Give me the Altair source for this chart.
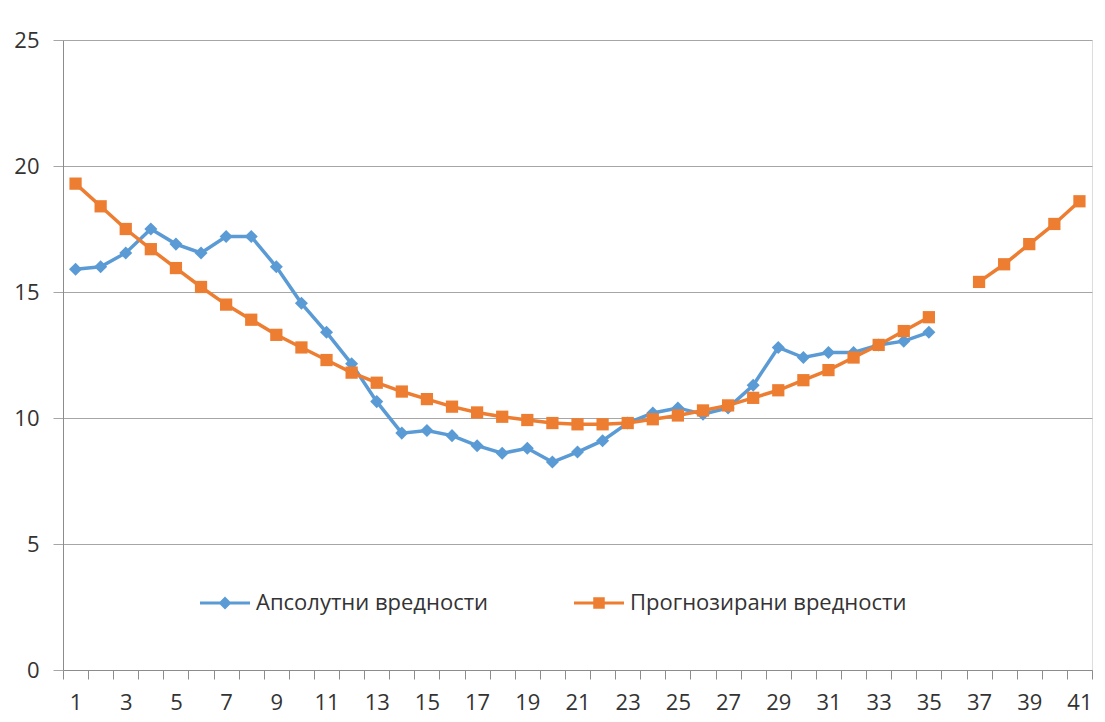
import altair as alt
import pandas as pd

periods = list(range(1, 42))
actual = [15.9, 16.0, 16.55, 17.5, 16.9, 16.55, 17.2, 17.2, 16.0, 14.55,
          13.4, 12.15, 10.65, 9.4, 9.5, 9.3, 8.9, 8.6, 8.8, 8.25,
          8.65, 9.1, 9.8, 10.2, 10.4, 10.15, 10.4, 11.3, 12.8, 12.4,
          12.6, 12.6, 12.9, 13.05, 13.4,
          None, None, None, None, None, None]
forecast = [19.3, 18.4, 17.5, 16.7, 15.95, 15.2, 14.5, 13.9, 13.3, 12.8,
            12.3, 11.8, 11.4, 11.05, 10.75, 10.45, 10.22, 10.05, 9.92, 9.8,
            9.75, 9.75, 9.8, 9.95, 10.1, 10.3, 10.5, 10.8, 11.1, 11.5,
            11.9, 12.4, 12.9, 13.45, 14.0,
            None, 15.4, 16.1, 16.9, 17.7, 18.6]
series_names = ["Апсолутни вредности", "Прогнозирани вредности"]
series_colors = ["#5B9BD5", "#ED7D31"]
series_shapes = ["diamond", "square"]
y_ticks = [0, 5, 10, 15, 20, 25]

rows = []
for name, vals in zip(series_names, [actual, forecast]):
    seg = 0
    for p, v in zip(periods, vals):
        if v is None:
            seg += 1
            continue
        rows.append({"period": p, "value": v, "series": name, "seg": f"{name}-{seg}"})
df = pd.DataFrame(rows)

FONT = "Open Sans"
FS = 22
x_vals = [i / 2 for i in range(1, 84)]

x_enc = alt.X(
    "period:Q",
    scale=alt.Scale(domain=[0.5, 41.5], nice=False, zero=False),
    axis=alt.Axis(
        title=None, values=x_vals, grid=False,
        labelExpr="datum.value % 2 === 1 ? '' + datum.value : ''",
        labelOverlap=False, labelFlush=False,
        tickSize=9, tickColor="#8c8c8c", domainColor="#8c8c8c",
        tickOpacity={"condition": {"test": "datum.value % 1 === 0", "value": 0}, "value": 1},
        labelFont=FONT, labelFontSize=FS, labelColor="#333333", labelPadding=13,
    ),
)
y_enc = alt.Y(
    "value:Q",
    scale=alt.Scale(domain=[0, 25], nice=False),
    axis=alt.Axis(
        title=None, values=y_ticks, grid=True, gridColor="#a6a6a6",
        domainColor="#8c8c8c", tickColor="#a6a6a6", tickSize=10,
        labelFont=FONT, labelFontSize=FS, labelColor="#333333", labelPadding=14,
    ),
)

color_scale = alt.Scale(domain=series_names, range=series_colors)
blue_sym = "M-1,-0.06H1V0.06H-1Z M0,-0.26L0.26,0L0,0.26L-0.26,0Z"
orange_sym = "M-1,-0.06H1V0.06H-1Z M-0.23,-0.23H0.23V0.23H-0.23Z"

legend_layer = alt.Chart(df).transform_filter("false").mark_point(filled=True, opacity=1).encode(
    x=x_enc, y=y_enc,
    color=alt.Color("series:N", scale=color_scale, legend=alt.Legend(
        title=None, orient="none", direction="horizontal",
        legendX=137, legendY=538, symbolSize=2500, symbolStrokeWidth=0,
        symbolOpacity=1, labelLimit=500,
        labelFont=FONT, labelFontSize=FS, labelColor="#333333",
        labelOffset=6, columnPadding=85,
    )),
    shape=alt.Shape("series:N", scale=alt.Scale(domain=series_names, range=[blue_sym, orange_sym])),
)

layers = [legend_layer]
for name, shp, size in zip(series_names, series_shapes, [170, 150]):
    sub = alt.Chart(df).transform_filter(alt.datum.series == name)
    layers.append(sub.mark_line(strokeWidth=3.5).encode(
        x=x_enc, y=y_enc, color=alt.Color("series:N", scale=color_scale, legend=None), detail="seg:N"))
    layers.append(sub.mark_point(filled=True, opacity=1, size=size, shape=shp).encode(
        x=x_enc, y=y_enc, color=alt.Color("series:N", scale=color_scale, legend=None)))

chart = alt.layer(*layers).properties(
    width=1029, height=630,
    autosize=alt.AutoSizeParams(type="none"),
    padding={"left": 55, "top": 32, "right": 5, "bottom": 50},
).configure_view(stroke=None).configure(background="white")

chart.save("out.html", embed_options={"renderer": "svg", "actions": False})
